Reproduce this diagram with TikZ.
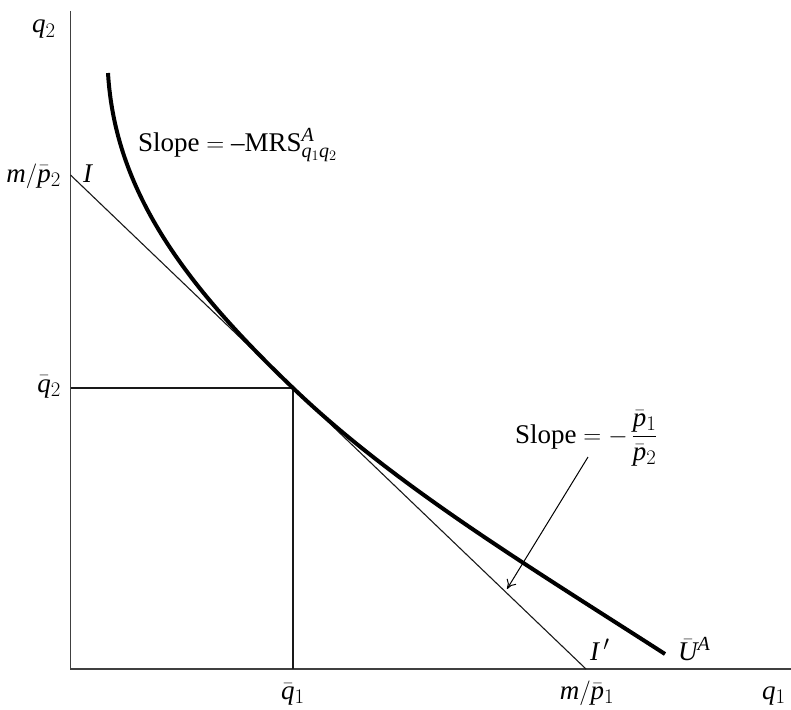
\documentclass[tikz,border=0pt]{standalone}
\usepackage{amsmath}
\usepackage{fontspec}
\setmainfont{Liberation Serif}
\usetikzlibrary{arrows.meta}
\DeclareMathSizes{27}{27}{20}{15}
\newcommand{\vi}[1]{\mathit{#1}}
\begin{document}
\begin{tikzpicture}[x=1pt,y=-1pt,
  lbl/.style={inner sep=0pt, font=\fontsize{27}{32}\selectfont},
  axisline/.style={line width=1.4pt, black!75},
  thinline/.style={line width=1.1pt, black!90},
  indiff/.style={line width=4pt},
  pointer/.style={line width=1pt, -{To[length=9pt,width=11pt]}},
]
\useasboundingbox (0,0) rectangle (791,709);
% axes
\coordinate (O) at (70.5,669);
\coordinate (Ytop) at (70.5,11);
\coordinate (Xend) at (791,669);
\draw[axisline] (Ytop) -- (O) -- (Xend);
% budget line
\coordinate (I1) at (70.5,175);
\coordinate (I2) at (586,669);
\draw[thinline] (I1) -- (I2);
% tangency point and projections
\coordinate (T) at (293,388);
\coordinate (Q2) at (70.5,388);
\coordinate (Q1) at (293,669);
\draw[thinline] (Q2) -- (T) -- (Q1);
% indifference curve
\coordinate (U0) at (108,73);
\coordinate (U1) at (665,654);
\draw[indiff] (U0) .. controls (115,190) and (183,283) .. (T)
  .. controls (393,484) and (525,564) .. (U1);
% labels
\node[lbl, anchor=base west] (lq2) at (32,33) {$\vi{q}_2$};
\node[lbl, anchor=base east] (lm2) at (61,182) {$\vi{m}/\bar{\vi{p}}_2$};
\node[lbl, anchor=base west] (lI) at (83,182) {$\vi{I}$};
\node[lbl, anchor=base east] (lq2b) at (61,392) {$\bar{\vi{q}}_2$};
\node[lbl, anchor=base] (lq1b) at (293,699) {$\bar{\vi{q}}_1$};
\node[lbl, anchor=base] (lm1) at (587,699) {$\vi{m}/\bar{\vi{p}}_1$};
\node[lbl, anchor=base west] (lq1) at (762,699) {$\vi{q}_1$};
\node[lbl, anchor=base west] (lIp) at (590,660) {$\vi{I}\,'$};
\node[lbl, anchor=base west] (lU) at (678,660) {$\bar{\vi{U}}^{\vi{A}}$};
\node[lbl, anchor=base west] (lmrs) at (138,151) {Slope $=$ –MRS$^{\vi{A}}_{\vi{q}_1\vi{q}_2}$};
\node[lbl, anchor=base west] (lslope) at (515,443) {Slope $= -\,\dfrac{\bar{\vi{p}}_1}{\bar{\vi{p}}_2}$};
% arrow
\coordinate (ArrS) at (588,457);
\coordinate (ArrE) at (507,589);
\draw[pointer] (ArrS) -- (ArrE);
\end{tikzpicture}
\end{document}
